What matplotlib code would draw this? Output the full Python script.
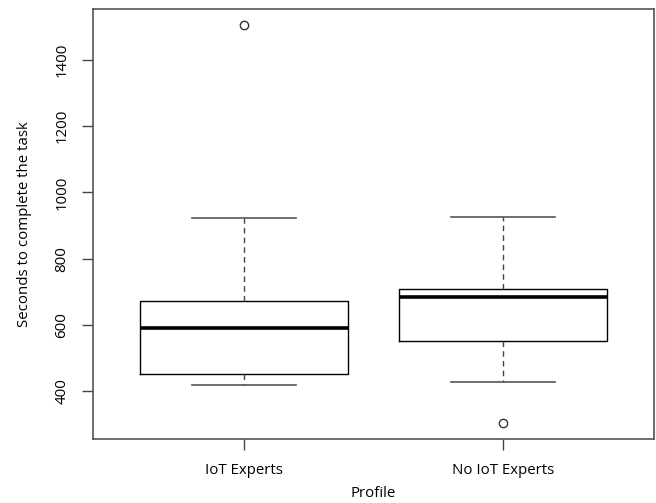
import matplotlib
matplotlib.use("Agg")
import matplotlib.pyplot as plt

# Box statistics
groups = ["IoT Experts", "No IoT Experts"]
whislo = [419, 427]
q1 = [452, 551]
med = [592, 685]
q3 = [673, 709]
whishi = [923, 926]
fliers = [[1505], [303]]

plt.rcParams['font.family'] = ['Open Sans', 'DejaVu Sans']

stats = []
for i, g in enumerate(groups):
    stats.append(dict(label=g, whislo=whislo[i], q1=q1[i], med=med[i],
                      q3=q3[i], whishi=whishi[i], fliers=fliers[i]))

fig = plt.figure(figsize=(6.56, 5.03), dpi=100)
ax = fig.add_axes([93 / 656, (503 - 439.3) / 503, 561 / 656, 430.3 / 503])

ax.bxp(stats, positions=[1, 2], widths=0.8,
       boxprops=dict(color="black", linewidth=1),
       medianprops=dict(color="black", linewidth=2.6, solid_capstyle="butt"),
       whiskerprops=dict(color="#444444", linewidth=1, linestyle=(0, (4, 3))),
       capprops=dict(color="#555555", linewidth=1.2),
       capwidths=0.4,
       flierprops=dict(marker="o", markerfacecolor="none",
                       markeredgecolor="#333333", markersize=6, markeredgewidth=1))

lo = min(min(whislo), min(min(f) for f in fliers))
hi = max(max(whishi), max(max(f) for f in fliers))
r = hi - lo
ax.set_ylim(lo - 0.04 * r, hi + 0.04 * r)
ax.set_xlim(0.42, 2.58)

ax.set_yticks([400, 600, 800, 1000, 1200, 1400])
ax.set_yticklabels(["400", "600", "800", "1000", "1200", "1400"],
                   rotation=90, va="center")
ax.tick_params(axis="both", length=8, width=1, color="#444444",
               labelsize=10.8, pad=9)
for s in ax.spines.values():
    s.set_color("#555555")
    s.set_linewidth(1.2)

ax.set_xlabel("Profile", fontsize=10.8, labelpad=6)
ax.set_ylabel("Seconds to complete the task", fontsize=10.8, labelpad=16)

fig.savefig("out.png", dpi=100)
